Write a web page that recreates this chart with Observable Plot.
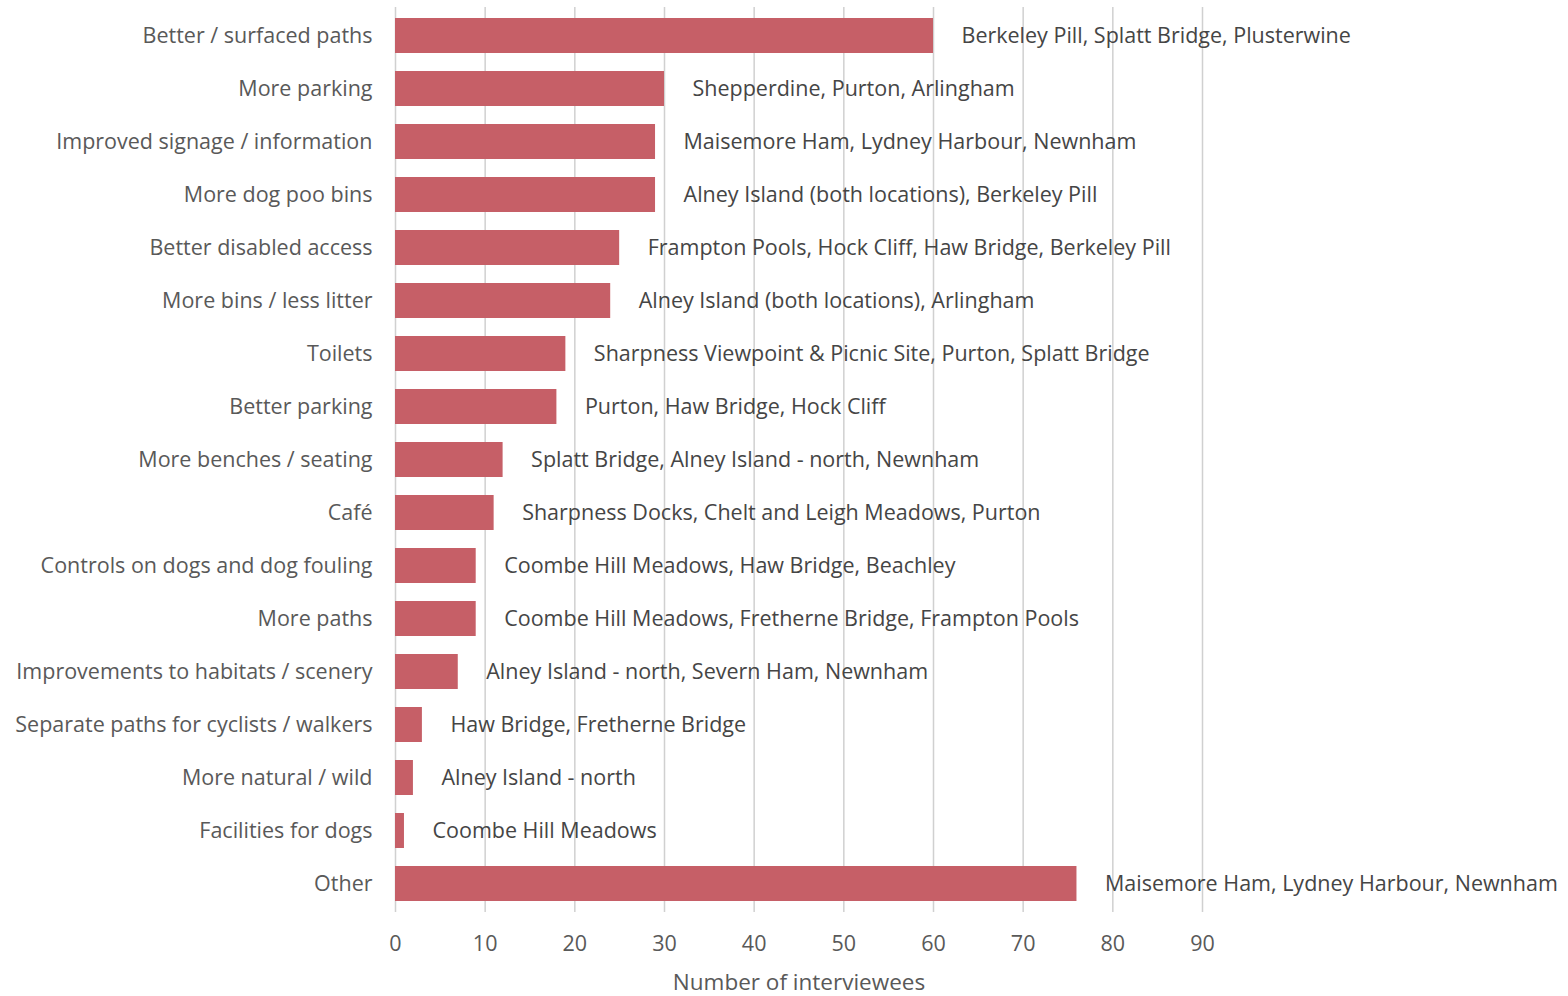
<!DOCTYPE html>
<html>
<head>
<meta charset="utf-8">
<script src="https://cdn.jsdelivr.net/npm/d3@7"></script>
<script src="https://cdn.jsdelivr.net/npm/@observablehq/plot@0.6"></script>
<style>
  body { margin: 0; background: #fff; }
  #chart svg { font-family: "Open Sans", sans-serif; }
</style>
</head>
<body>
<div id="chart"></div>
<script>
const categories = [
  "Better / surfaced paths",
  "More parking",
  "Improved signage / information",
  "More dog poo bins",
  "Better disabled access",
  "More bins / less litter",
  "Toilets",
  "Better parking",
  "More benches / seating",
  "Café",
  "Controls on dogs and dog fouling",
  "More paths",
  "Improvements to habitats / scenery",
  "Separate paths for cyclists / walkers",
  "More natural / wild",
  "Facilities for dogs",
  "Other"
];
const counts = [60, 30, 29, 29, 25, 24, 19, 18, 12, 11, 9, 9, 7, 3, 2, 1, 76];
const locations = [
  "Berkeley Pill, Splatt Bridge, Plusterwine",
  "Shepperdine, Purton, Arlingham",
  "Maisemore Ham, Lydney Harbour, Newnham",
  "Alney Island (both locations), Berkeley Pill",
  "Frampton Pools, Hock Cliff, Haw Bridge, Berkeley Pill",
  "Alney Island (both locations), Arlingham",
  "Sharpness Viewpoint & Picnic Site, Purton, Splatt Bridge",
  "Purton, Haw Bridge, Hock Cliff",
  "Splatt Bridge, Alney Island - north, Newnham",
  "Sharpness Docks, Chelt and Leigh Meadows, Purton",
  "Coombe Hill Meadows, Haw Bridge, Beachley",
  "Coombe Hill Meadows, Fretherne Bridge, Frampton Pools",
  "Alney Island - north, Severn Ham, Newnham",
  "Haw Bridge, Fretherne Bridge",
  "Alney Island - north",
  "Coombe Hill Meadows",
  "Maisemore Ham, Lydney Harbour, Newnham"
];
const xTicks = [0, 10, 20, 30, 40, 50, 60, 70, 80, 90];
const xTitle = "Number of interviewees";

const data = categories.map((c, i) => ({category: c, count: counts[i], where: locations[i]}));

const chart = Plot.plot({
  width: 1568,
  height: 996,
  marginLeft: 395,
  marginRight: 366,
  marginTop: 7,
  marginBottom: 84,
  style: {fontSize: "21.5px", color: "#595959", fontFamily: "Open Sans, sans-serif"},
  x: {domain: [0, 90], ticks: xTicks, label: null, tickSize: 0, tickPadding: 23},
  y: {domain: categories, paddingInner: 0.34, paddingOuter: 0.17, label: null, tickSize: 0, tickPadding: 23},
  marks: [
    Plot.gridX(xTicks, {stroke: "#d0d0d0", strokeOpacity: 1, strokeWidth: 1.5}),
    Plot.barX(data, {x: "count", y: "category", fill: "#c65f67"}),
    Plot.text(data, {x: "count", y: "category", text: "where", textAnchor: "start", dx: 28, fill: "#454545", fontSize: 21.5}),
    Plot.text([xTitle], {frameAnchor: "bottom", dy: 77, fill: "#595959", fontSize: 22.5})
  ]
});
document.getElementById("chart").appendChild(chart);
</script>
</body>
</html>
